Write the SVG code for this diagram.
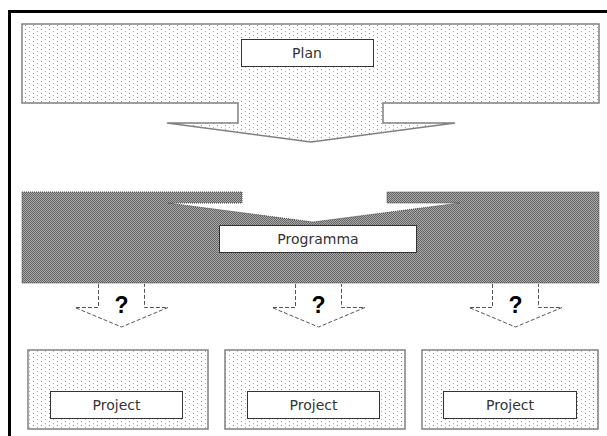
<svg xmlns="http://www.w3.org/2000/svg" width="607" height="436" viewBox="0 0 607 436">
  <defs>
    <!-- light stipple fill -->
    <pattern id="dots" width="8" height="4" patternUnits="userSpaceOnUse">
      <rect width="8" height="4" fill="#fff"/>
      <rect x="1" y="1" width="1" height="1" fill="#8a8a8a"/>
      <rect x="5" y="3" width="1" height="1" fill="#b0b0b0"/>
    </pattern>
    <!-- dark checker fill -->
    <pattern id="checker" width="2" height="2" patternUnits="userSpaceOnUse">
      <rect width="2" height="2" fill="#a8a8a8"/>
      <rect x="0" y="0" width="1" height="1" fill="#666"/>
      <rect x="1" y="1" width="1" height="1" fill="#666"/>
    </pattern>
  </defs>
  <style>
    .label { fill: #fff; stroke: #333; stroke-width: 1; }
    .txt { font-family: "DejaVu Sans", Verdana, sans-serif; font-size: 14px; fill: #333; text-anchor: middle; }
    .q { font-family: "Liberation Sans", Arial, sans-serif; font-size: 23px; font-weight: bold; fill: #000; text-anchor: middle; }
    .light { fill: url(#dots); stroke: #808080; stroke-width: 1.5; }
    .dark { fill: url(#checker); stroke: #444; stroke-width: 1; stroke-dasharray: 1 1; }
    .dash { fill: none; stroke: #555; stroke-width: 1; stroke-dasharray: 4 2; }
  </style>

  <rect width="607" height="436" fill="#fff"/>

  <!-- outer frame -->
  <path d="M9.5 436 V11.5 H607" fill="none" stroke="#000" stroke-width="3"/>

  <g id="plan">
    <path class="light" d="M22 24 H599 V103 H383 V123 H455 L311 142 L167 123 H238 V103 H22 Z"/>
    <rect class="label" x="241.5" y="39.5" width="132" height="27"/>
    <text class="txt" x="307" y="58">Plan</text>
  </g>

  <g id="programma">
    <path class="dark" d="M22 192 H242 V203 H168 L313 222 L460 203 H387 V192 H599 V283 H22 Z"/>
    <rect class="label" x="219.5" y="225.5" width="197" height="27"/>
    <text class="txt" x="318" y="244">Programma</text>
  </g>

  <g id="connectors">
    <path class="dash" d="M98.5 284 V307.5 H75 L121.5 327 L168 307.5 H144.5 V284"/>
    <path class="dash" d="M295.5 284 V307.5 H272 L318.5 327 L365 307.5 H341.5 V284"/>
    <path class="dash" d="M492.5 284 V307.5 H469 L515.5 327 L562 307.5 H538.5 V284"/>
    <text class="q" x="121.5" y="313">?</text>
    <text class="q" x="318.5" y="313">?</text>
    <text class="q" x="515.5" y="313">?</text>
  </g>

  <g id="project-1">
    <rect class="light" x="28" y="350" width="180" height="79"/>
    <rect class="label" x="50.5" y="391.5" width="132" height="27"/>
    <text class="txt" x="116.5" y="410">Project</text>
  </g>
  <g id="project-2">
    <rect class="light" x="225" y="350" width="180" height="79"/>
    <rect class="label" x="247.5" y="391.5" width="132" height="27"/>
    <text class="txt" x="313.5" y="410">Project</text>
  </g>
  <g id="project-3">
    <rect class="light" x="422" y="350" width="176" height="79"/>
    <rect class="label" x="443.5" y="391.5" width="133" height="27"/>
    <text class="txt" x="510" y="410">Project</text>
  </g>
</svg>
